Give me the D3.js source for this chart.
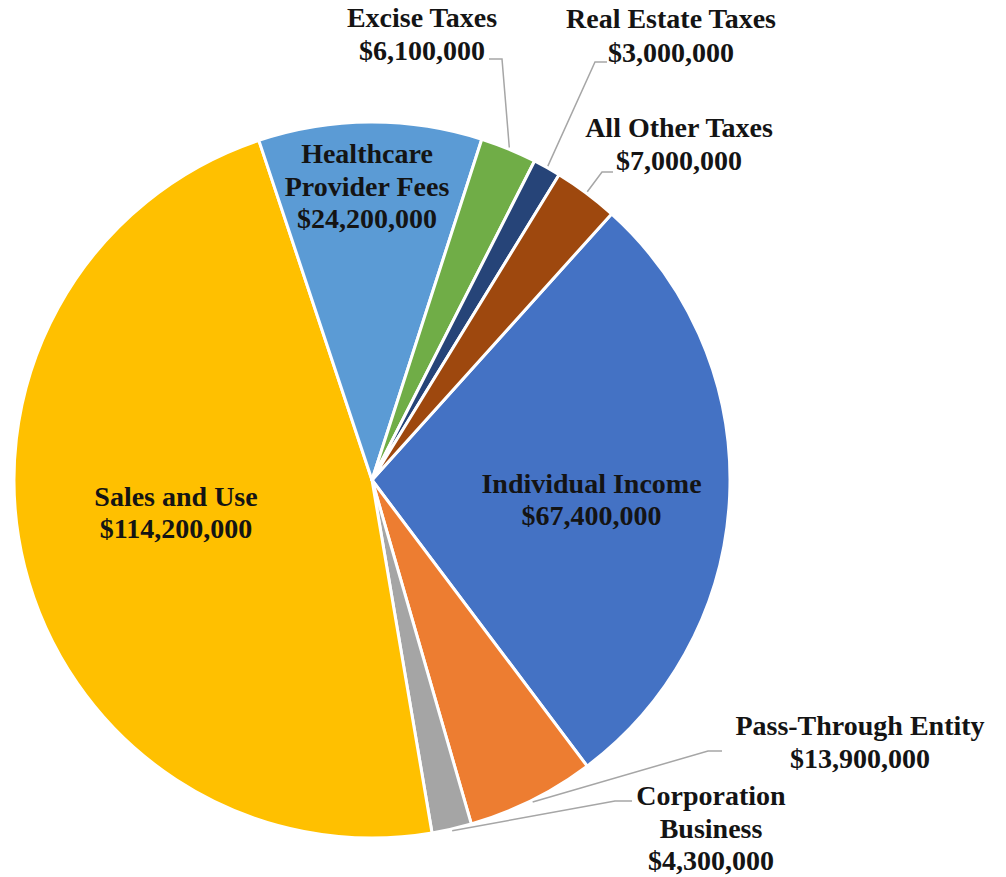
<!DOCTYPE html>
<html><head><meta charset="utf-8">
<script src="https://cdn.jsdelivr.net/npm/d3@7"></script>
<style>html,body{margin:0;padding:0;background:#fff;}</style>
</head><body>
<svg id="chart" width="1006" height="877"></svg>
<script>
const categories = ["Individual Income","Pass-Through Entity","Corporation Business","Sales and Use","Healthcare Provider Fees","Excise Taxes","Real Estate Taxes","All Other Taxes"];
const values = [67400000,13900000,4300000,114200000,24200000,6100000,3000000,7000000];
const colors = ["#4472C4","#ED7D31","#A5A5A5","#FFC000","#5B9BD5","#70AD47","#264478","#9E480E"];
const labelLines = [["Individual Income"],["Pass-Through Entity"],["Corporation","Business"],["Sales and Use"],["Healthcare","Provider Fees"],["Excise Taxes"],["Real Estate Taxes"],["All Other Taxes"]];

const svg = d3.select("#chart");
const cx = 372, cy = 480, R = 358;
const fmt = d3.format("$,");
const g = svg.append("g").attr("transform", `translate(${cx},${cy})`);
const start = 42 * Math.PI / 180;
const pie = d3.pie().sort(null).value(d => d).startAngle(start).endAngle(start + 2 * Math.PI);
const arcs = pie(values);
const arc = d3.arc().innerRadius(0).outerRadius(R);
g.selectAll("path.slice").data(arcs).enter().append("path")
  .attr("d", arc).attr("fill", (d, i) => colors[i])
  .attr("stroke", "#fff").attr("stroke-width", 3).attr("stroke-linejoin", "round");

const font = "'Liberation Serif', 'Times New Roman', serif";
const fs = 28;
const place = [
  {x: 591.5, y: 493, lh: 32},
  {x: 860, y: 735, lh: 33, leader: [[722,751],[708,751]]},
  {x: 711, y: 805, lh: 32.5, leader: [[632,801],[615,801]]},
  {x: 176, y: 506, lh: 32},
  {x: 367, y: 163, lh: 32.5},
  {x: 422, y: 27, lh: 33, leader: [[489,59],[502,59]]},
  {x: 671, y: 28, lh: 34, leader: [[607,62],[595,62]]},
  {x: 679, y: 137, lh: 33, leader: [[613,172],[602,172]]}
];
arcs.forEach((a, i) => {
  const p = place[i];
  if (p.leader) {
    const mid = (a.startAngle + a.endAngle) / 2;
    const r = R * 1.005;
    const end = [cx + r * Math.sin(mid), cy - r * Math.cos(mid)];
    svg.append("polyline")
      .attr("points", [...p.leader, end].map(q => q.join(",")).join(" "))
      .attr("fill", "none").attr("stroke", "#A6A6A6").attr("stroke-width", 1.5);
  }
  const lines = labelLines[i].concat([fmt(values[i])]);
  const t = svg.append("text").attr("text-anchor", "middle")
    .style("font-family", font).attr("font-weight", "bold").attr("font-size", fs).attr("fill", "#141414");
  lines.forEach((l, k) => t.append("tspan").attr("x", p.x).attr("y", p.y + k * p.lh).text(l));
});
</script>
</body></html>
